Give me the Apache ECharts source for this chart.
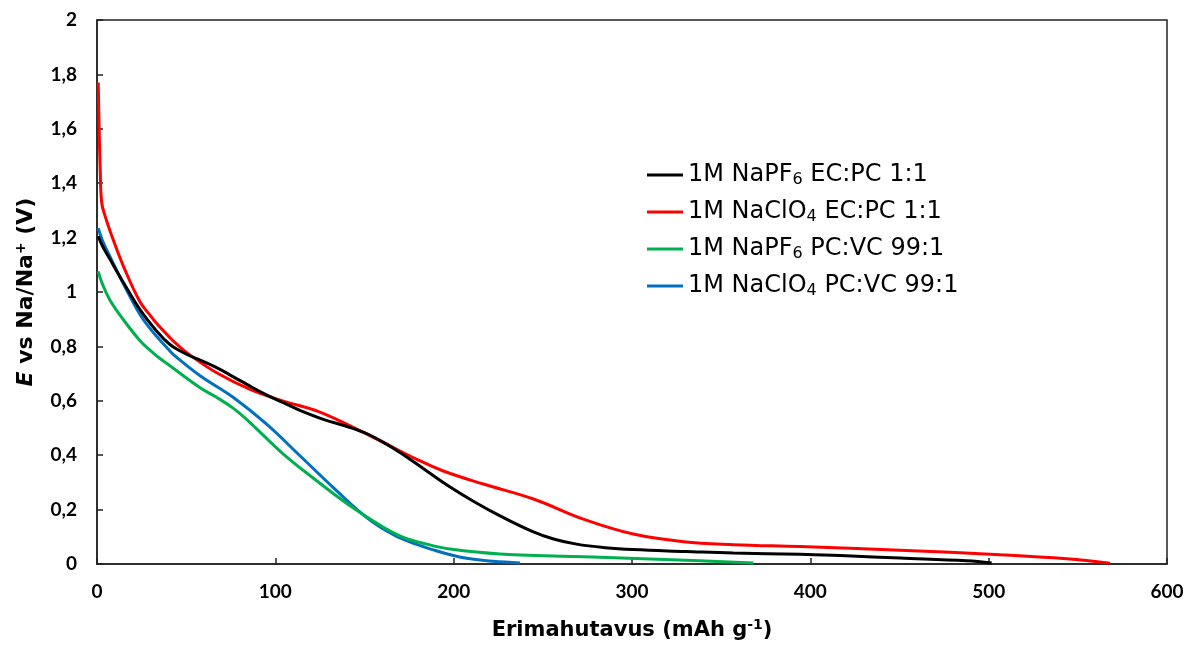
<!DOCTYPE html>
<html>
<head>
<meta charset="utf-8">
<script src="https://cdn.jsdelivr.net/npm/echarts@6/dist/echarts.min.js"></script>
<style>
html,body{margin:0;padding:0;background:#fff;}
#chart{width:1189px;height:648px;}
</style>
</head>
<body>
<div id="chart"></div>
<script>
var seriesNames = ['1M NaPF6 EC:PC 1:1', '1M NaClO4 EC:PC 1:1', '1M NaPF6 PC:VC 99:1', '1M NaClO4 PC:VC 99:1'];
var seriesColors = ['#000000', '#ff0000', '#00b050', '#0070c0'];
var xTicks = [0, 100, 200, 300, 400, 500, 600];
var yTicks = [0, 0.2, 0.4, 0.6, 0.8, 1, 1.2, 1.4, 1.6, 1.8, 2];

var blackData = [[0.7,1.205],[3,1.17],[7.3,1.12],[14.8,1.035],[24,0.936],[33.5,0.856],[40.9,0.807],[47,0.782],[52.2,0.765],[57.8,0.75],[67.1,0.722],[76,0.69],[85.8,0.654],[95,0.622],[104.5,0.593],[113.8,0.565],[126.9,0.532],[141.9,0.502],[152,0.477],[160.6,0.447],[169.9,0.41],[184.9,0.342],[198,0.283],[212,0.227],[226,0.177],[244.7,0.118],[256,0.092],[268.9,0.073],[285,0.06],[300.7,0.053],[330,0.046],[356.8,0.040],[394.2,0.036],[420,0.03],[450.3,0.022],[487.7,0.012],[501.7,0.004]];
var redData = [[0.7,1.77],[1.2,1.6],[1.8,1.45],[2.6,1.33],[4.5,1.28],[9.2,1.19],[14.8,1.095],[24,0.965],[29.7,0.915],[33.5,0.884],[40.9,0.832],[44.7,0.808],[52.2,0.768],[67.1,0.703],[85.8,0.642],[104.5,0.599],[123.2,0.563],[141.9,0.508],[160.6,0.447],[179.3,0.385],[194.2,0.342],[216.6,0.294],[244.7,0.239],[272.7,0.165],[300.7,0.110],[328.8,0.082],[356.8,0.071],[394.2,0.064],[450.3,0.051],[506.4,0.034],[543.8,0.019],[568,0.003]];
var greenData = [[0.7,1.076],[3,1.03],[7.3,0.97],[14.8,0.898],[24,0.822],[29.7,0.786],[34.2,0.761],[40.9,0.729],[57.8,0.648],[67,0.613],[76.5,0.572],[85.8,0.52],[104.5,0.404],[123.2,0.306],[141.9,0.214],[160.6,0.135],[171.8,0.098],[184.9,0.073],[198,0.055],[226,0.037],[282.1,0.025],[338.1,0.012],[368,0.004]];
var blueData = [[0.7,1.235],[3,1.19],[7.3,1.13],[14.8,1.03],[24,0.918],[29.7,0.866],[33.5,0.836],[40.9,0.783],[43.7,0.765],[57.8,0.692],[76.5,0.612],[95.1,0.514],[113.8,0.398],[132.5,0.281],[151.2,0.171],[166.2,0.108],[179.3,0.072],[188.6,0.052],[197,0.036],[207.3,0.021],[222,0.01],[237.2,0.004]];
var allData = [blackData, redData, greenData, blueData];

var TICKFONT = 'Lato';
var NAMEFONT = 'DejaVu Sans';
function fmtNum(v) { return String(Number(v.toFixed(1))).replace('.', ','); }
function legendFmt(name) {
  return name.replace(/^(.*?)(PF|ClO)(\d)(.*)$/, '{t|$1$2}{sub|$3}{t|$4}');
}

var chart = echarts.init(document.getElementById('chart'), null, {renderer: 'canvas'});
chart.setOption({
  animation: false,
  backgroundColor: '#ffffff',
  grid: {left: 97, right: 22, top: 20, bottom: 83, show: true, borderColor: '#222', borderWidth: 1.5, backgroundColor: 'transparent'},
  legend: {
    orient: 'vertical', left: 642, top: 157,
    itemWidth: 36, itemHeight: 3, itemGap: 11, icon: 'rect',
    data: seriesNames,
    formatter: legendFmt,
    textStyle: {fontFamily: NAMEFONT, fontSize: 24, color: '#000', lineHeight: 26,
      rich: {
        t: {fontFamily: NAMEFONT, fontSize: 24, color: '#000', lineHeight: 26},
        sub: {fontFamily: NAMEFONT, fontSize: 16, lineHeight: 12, verticalAlign: 'bottom', color: '#000'}
      }}
  },
  xAxis: {
    type: 'value', min: xTicks[0], max: xTicks[xTicks.length - 1], interval: 100,
    name: '{b|Erimahutavus (mAh g}{sup|-1}{b|)}', nameLocation: 'middle', nameGap: 54,
    nameTextStyle: {fontFamily: NAMEFONT, fontSize: 21, fontWeight: 'bold', color: '#000', lineHeight: 25,
      rich: {
        b: {fontFamily: NAMEFONT, fontSize: 21, fontWeight: 'bold', color: '#000', lineHeight: 25},
        sup: {fontFamily: NAMEFONT, fontSize: 14, fontWeight: 'bold', lineHeight: 12, verticalAlign: 'top', color: '#000'}
      }},
    axisLine: {lineStyle: {color: '#222', width: 1.5}},
    axisTick: {inside: true, length: 6, lineStyle: {color: '#222', width: 1.5}},
    axisLabel: {fontFamily: TICKFONT, fontSize: 19, fontWeight: 'bold', color: '#000', margin: 18},
    splitLine: {show: false}
  },
  yAxis: {
    type: 'value', min: yTicks[0], max: yTicks[yTicks.length - 1], interval: 0.2,
    name: '{it|E}{b| vs Na/Na}{sup|+}{b| (V)}', nameLocation: 'middle', nameGap: 58,
    nameTextStyle: {fontFamily: NAMEFONT, fontSize: 22, fontWeight: 'bold', color: '#000', lineHeight: 25,
      rich: {
        it: {fontFamily: NAMEFONT, fontSize: 22, fontWeight: 'bold', fontStyle: 'italic', color: '#000', lineHeight: 25},
        b: {fontFamily: NAMEFONT, fontSize: 22, fontWeight: 'bold', color: '#000', lineHeight: 25},
        sup: {fontFamily: NAMEFONT, fontSize: 14, fontWeight: 'bold', lineHeight: 12, verticalAlign: 'top', color: '#000'}
      }},
    axisLine: {lineStyle: {color: '#222', width: 1.5}},
    axisTick: {inside: true, length: 6, lineStyle: {color: '#222', width: 1.5}},
    axisLabel: {fontFamily: TICKFONT, fontSize: 19, fontWeight: 'bold', color: '#000', margin: 20, formatter: fmtNum},
    splitLine: {show: false}
  },
  series: seriesNames.map(function (n, i) {
    return {
      name: n, type: 'line', data: allData[i], showSymbol: false, symbol: 'none',
      smooth: 0.4,
      lineStyle: {color: seriesColors[i], width: 3}, itemStyle: {color: seriesColors[i]},
      z: 4 - i
    };
  })
});
</script>
</body>
</html>
